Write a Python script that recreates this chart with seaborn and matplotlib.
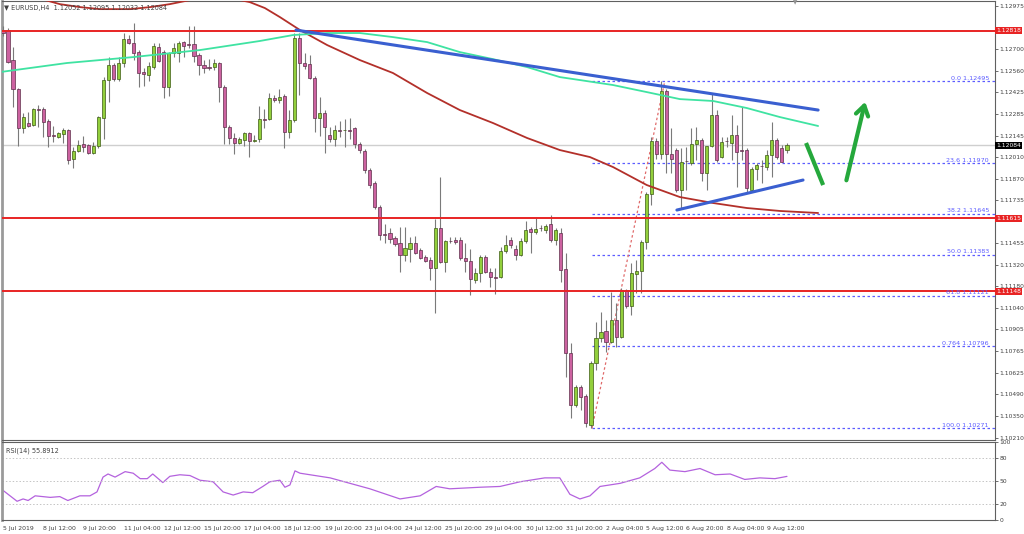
import numpy as np
import matplotlib
matplotlib.use("Agg")
import matplotlib.pyplot as plt
import seaborn as sns

# ==========================================
# DATOS (leidos del grafico EURUSD H4)
# ==========================================
opens = [1.12821, 1.12821, 1.12629, 1.12443, 1.12194, 1.12226, 1.12213, 1.12315, 1.12315, 1.12239,
         1.12149, 1.12136, 1.12155, 1.12181, 1.11995, 1.12047, 1.12091, 1.12085, 1.12034, 1.12079,
         1.12258, 1.12501, 1.12597, 1.12507, 1.12610, 1.12763, 1.12738, 1.12680, 1.12552, 1.12533,
         1.12584, 1.12712, 1.12680, 1.12456, 1.12674, 1.12674, 1.12744, 1.12731, 1.12731, 1.12661,
         1.12597, 1.12584, 1.12584, 1.12610, 1.12456, 1.12200, 1.12130, 1.12098, 1.12117, 1.12162,
         1.12111, 1.12123, 1.12251, 1.12251, 1.12386, 1.12373, 1.12399, 1.12168, 1.12245, 1.12770,
         1.12610, 1.12603, 1.12514, 1.12258, 1.12290, 1.12149, 1.12123, 1.12181, 1.12181, 1.12181,
         1.12194, 1.12091, 1.12047, 1.11925, 1.11842, 1.11688, 1.11515, 1.11522, 1.11490, 1.11458,
         1.11381, 1.11419, 1.11458, 1.11413, 1.11368, 1.11349, 1.11298, 1.11554, 1.11336, 1.11471,
         1.11477, 1.11477, 1.11362, 1.11343, 1.11221, 1.11266, 1.11368, 1.11272, 1.11240, 1.11240,
         1.11407, 1.11477, 1.11419, 1.11381, 1.11471, 1.11547, 1.11528, 1.11554, 1.11541, 1.11579,
         1.11477, 1.11522, 1.11291, 1.10754, 1.10421, 1.10536, 1.10479, 1.10293, 1.10690, 1.10850,
         1.10895, 1.10824, 1.10965, 1.10856, 1.11157, 1.11055, 1.11259, 1.11279, 1.11464, 1.11771,
         1.12111, 1.12027, 1.12431, 1.12027, 1.12053, 1.11797, 1.11983, 1.11970, 1.12091, 1.12117,
         1.11906, 1.12079, 1.12277, 1.12008, 1.12111, 1.12098, 1.12149, 1.12053, 1.12053, 1.11797,
         1.11931, 1.11951, 1.11944, 1.12021, 1.12117, 1.12066, 1.12052]
highs = [1.12847, 1.12834, 1.12712, 1.12450, 1.12290, 1.12296, 1.12322, 1.12341, 1.12328, 1.12251,
         1.12207, 1.12168, 1.12194, 1.12188, 1.12072, 1.12117, 1.12143, 1.12091, 1.12104, 1.12270,
         1.12520, 1.12648, 1.12610, 1.12648, 1.12802, 1.12789, 1.12866, 1.12693, 1.12578, 1.12616,
         1.12738, 1.12738, 1.12693, 1.12680, 1.12738, 1.12751, 1.12751, 1.12847, 1.12847, 1.12674,
         1.12629, 1.12635, 1.12635, 1.12616, 1.12469, 1.12213, 1.12162, 1.12136, 1.12168, 1.12168,
         1.12149, 1.12335, 1.12315, 1.12418, 1.12405, 1.12443, 1.12411, 1.12309, 1.12802, 1.12802,
         1.12674, 1.12661, 1.12527, 1.12392, 1.12309, 1.12200, 1.12213, 1.12239, 1.12251, 1.12258,
         1.12200, 1.12104, 1.12059, 1.11938, 1.11855, 1.11701, 1.11579, 1.11554, 1.11503, 1.11560,
         1.11560, 1.11496, 1.11503, 1.11426, 1.11381, 1.11368, 1.11611, 1.11880, 1.11477, 1.11496,
         1.11496, 1.11496, 1.11458, 1.11419, 1.11298, 1.11381, 1.11381, 1.11298, 1.11298, 1.11432,
         1.11509, 1.11496, 1.11445, 1.11490, 1.11599, 1.11560, 1.11618, 1.11573, 1.11579, 1.11637,
         1.11554, 1.11554, 1.11394, 1.10818, 1.10549, 1.10549, 1.10491, 1.10703, 1.10952, 1.11016,
         1.10965, 1.11144, 1.11074, 1.11170, 1.11163, 1.11330, 1.11349, 1.11477, 1.11784, 1.12136,
         1.12130, 1.12495, 1.12443, 1.12194, 1.12066, 1.12066, 1.12072, 1.12194, 1.12200, 1.12130,
         1.12079, 1.12418, 1.12309, 1.12136, 1.12136, 1.12277, 1.12213, 1.12328, 1.12066, 1.11944,
         1.11970, 1.11989, 1.12053, 1.12232, 1.12130, 1.12085, 1.12095]
lows = [1.12783, 1.12610, 1.12328, 1.12079, 1.12162, 1.12200, 1.12207, 1.12200, 1.12136, 1.12072,
        1.12104, 1.12130, 1.12098, 1.11963, 1.11938, 1.12040, 1.12040, 1.12027, 1.12027, 1.12066,
        1.12123, 1.12360, 1.12495, 1.12495, 1.12584, 1.12731, 1.12629, 1.12456, 1.12463, 1.12495,
        1.12571, 1.12616, 1.12386, 1.12399, 1.12648, 1.12616, 1.12648, 1.12706, 1.12616, 1.12533,
        1.12546, 1.12565, 1.12565, 1.12360, 1.12091, 1.12091, 1.12027, 1.12091, 1.12079, 1.12008,
        1.12104, 1.12104, 1.12194, 1.12245, 1.12360, 1.12354, 1.12066, 1.12130, 1.12232, 1.12405,
        1.12571, 1.12507, 1.12168, 1.12143, 1.12034, 1.12104, 1.12079, 1.12136, 1.12072, 1.12123,
        1.12066, 1.12034, 1.11906, 1.11810, 1.11675, 1.11477, 1.11458, 1.11458, 1.11439, 1.11272,
        1.11343, 1.11336, 1.11387, 1.11355, 1.11336, 1.11221, 1.11010, 1.11330, 1.11272, 1.11458,
        1.11451, 1.11349, 1.11272, 1.11125, 1.11202, 1.11208, 1.11266, 1.11176, 1.11131, 1.11234,
        1.11394, 1.11426, 1.11349, 1.11375, 1.11458, 1.11394, 1.11515, 1.11535, 1.11522, 1.11464,
        1.11445, 1.11208, 1.10600, 1.10338, 1.10408, 1.10389, 1.10280, 1.10271, 1.10645, 1.10824,
        1.10760, 1.10818, 1.10792, 1.10850, 1.11042, 1.10997, 1.11138, 1.11138, 1.11419, 1.11701,
        1.11995, 1.11995, 1.11906, 1.11906, 1.11784, 1.11682, 1.11797, 1.11957, 1.11989, 1.11855,
        1.11797, 1.12072, 1.11976, 1.12002, 1.12072, 1.11989, 1.11816, 1.11989, 1.11784, 1.11784,
        1.11861, 1.11842, 1.11925, 1.11880, 1.11995, 1.11976, 1.12032]
closes = [1.12802, 1.12616, 1.12443, 1.12194, 1.12264, 1.12207, 1.12315, 1.12312, 1.12232, 1.12143,
          1.12146, 1.12162, 1.12181, 1.11989, 1.12047, 1.12085, 1.12072, 1.12034, 1.12079, 1.12264,
          1.12501, 1.12597, 1.12507, 1.12610, 1.12763, 1.12738, 1.12674, 1.12546, 1.12539, 1.12591,
          1.12719, 1.12623, 1.12456, 1.12674, 1.12706, 1.12738, 1.12719, 1.12728, 1.12655, 1.12597,
          1.12578, 1.12581, 1.12610, 1.12456, 1.12200, 1.12130, 1.12098, 1.12123, 1.12162, 1.12111,
          1.12117, 1.12251, 1.12248, 1.12386, 1.12373, 1.12392, 1.12168, 1.12245, 1.12770, 1.12610,
          1.12591, 1.12514, 1.12258, 1.12290, 1.12200, 1.12123, 1.12181, 1.12178, 1.12184, 1.12178,
          1.12091, 1.12053, 1.11925, 1.11829, 1.11688, 1.11509, 1.11512, 1.11483, 1.11451, 1.11381,
          1.11426, 1.11458, 1.11394, 1.11362, 1.11343, 1.11298, 1.11554, 1.11336, 1.11471, 1.11468,
          1.11464, 1.11362, 1.11343, 1.11227, 1.11266, 1.11368, 1.11272, 1.11240, 1.11237, 1.11407,
          1.11445, 1.11445, 1.11381, 1.11471, 1.11541, 1.11528, 1.11547, 1.11551, 1.11567, 1.11477,
          1.11541, 1.11285, 1.10754, 1.10421, 1.10536, 1.10472, 1.10306, 1.10690, 1.10850, 1.10888,
          1.10824, 1.10965, 1.10856, 1.11157, 1.11055, 1.11266, 1.11279, 1.11464, 1.11771, 1.12111,
          1.12027, 1.12431, 1.12027, 1.11995, 1.11797, 1.11976, 1.11980, 1.12091, 1.12117, 1.11906,
          1.12079, 1.12277, 1.11989, 1.12104, 1.12108, 1.12149, 1.12040, 1.12050, 1.11810, 1.11931,
          1.11957, 1.11948, 1.12021, 1.12117, 1.12008, 1.11976, 1.12084]

# medias moviles (indice de vela, precio)
ma_red_x = [8.4, 11.3, 15.3, 19.3, 25.3, 29.3, 33.2, 37.2, 45.2, 49.1, 52.1, 55.1, 59.1, 64.5, 71.0,
            77.6, 84.4, 90.9, 97.5, 104.3, 110.8, 116.8, 121.4, 128.1, 134.7, 141.3, 148.0, 154.6, 162.2]
ma_red_y = [1.13013, 1.12987, 1.12968, 1.12955, 1.12955, 1.12968, 1.12987, 1.13013, 1.13026, 1.13000,
            1.12962, 1.12904, 1.12821, 1.12725, 1.12629, 1.12546, 1.12418, 1.12309, 1.12226, 1.12130,
            1.12053, 1.12008, 1.11944, 1.11829, 1.11752, 1.11714, 1.11682, 1.11663, 1.11650]
ma_green_x = [-0.6, 12.7, 25.9, 39.2, 51.1, 57.7, 64.5, 71.0, 77.6, 84.4, 90.9, 97.5, 104.3, 110.8,
              114.8, 121.4, 128.1, 134.7, 141.3, 148.0, 154.6, 162.2]
ma_green_y = [1.12552, 1.12610, 1.12648, 1.12693, 1.12751, 1.12789, 1.12802, 1.12802, 1.12776, 1.12744,
              1.12680, 1.12635, 1.12584, 1.12520, 1.12501, 1.12469, 1.12424, 1.12379, 1.12367, 1.12322,
              1.12264, 1.12207]

# RSI(14)
rsi_x = [-0.6, 2.8, 4.0, 5.0, 6.4, 9.4, 11.3, 12.9, 15.3, 17.3, 18.7, 19.9, 20.9, 22.3, 24.3, 25.9,
         27.3, 28.7, 29.8, 31.8, 33.2, 35.2, 37.2, 39.2, 41.8, 43.8, 45.8, 47.8, 49.7, 51.7, 53.1, 55.1,
         56.1, 57.1, 58.1, 59.1, 65.1, 73.0, 79.0, 83.0, 86.2, 88.9, 94.9, 98.9, 102.9, 107.8, 110.8,
         112.8, 114.8, 116.8, 118.8, 122.8, 126.7, 129.7, 131.1, 132.7, 135.7, 138.7, 141.7, 144.7,
         147.6, 150.6, 153.6, 156.0]
rsi_y = [41, 24, 27, 25, 31, 29, 30, 25, 31, 31, 36, 55, 59, 55, 62, 60, 53, 53, 59, 48, 56, 58, 57, 51,
         49, 36, 32, 36, 35, 43, 49, 51, 42, 45, 63, 60, 54, 40, 27, 31, 43, 40, 42, 43, 49, 54, 54, 33,
         27, 31, 43, 47, 54, 66, 74, 64, 62, 66, 58, 59, 52, 54, 53, 55.9]

# niveles
res_levels = [1.12818, 1.11615, 1.11148]
last_price = 1.12084
fib_names = ["0.0", "23.6", "38.2", "50.0", "61.8", "0.764", "100.0"]
fib_prices = [1.12495, 1.11970, 1.11645, 1.11383, 1.11121, 1.10796, 1.10271]
fib_start = 117.2
fib_diag_x = [117.2, 131.7]
fib_diag_y = [1.10271, 1.12495]

upper_trend_x = [58.3, 162.2]
upper_trend_y = [1.12821, 1.12309]
lower_trend_x = [134.1, 159.2]
lower_trend_y = [1.11669, 1.11861]
arrow_down_x = [159.8, 163.2]
arrow_down_y = [1.12098, 1.11829]
arrow_up_x = [167.7, 171.7]
arrow_up_y = [1.11842, 1.12379]

price_ticks = [1.12975, 1.12700, 1.12560, 1.12425, 1.12285, 1.12145, 1.12010, 1.11870, 1.11735,
               1.11455, 1.11320, 1.11180, 1.11040, 1.10905, 1.10765, 1.10625, 1.10490, 1.10350, 1.10210]
rsi_ticks = [0, 20, 50, 80, 100]
date_labels = ["5 Jul 2019", "8 Jul 12:00", "9 Jul 20:00", "11 Jul 04:00", "12 Jul 12:00",
               "15 Jul 20:00", "17 Jul 04:00", "18 Jul 12:00", "19 Jul 20:00", "23 Jul 04:00",
               "24 Jul 12:00", "25 Jul 20:00", "29 Jul 04:00", "30 Jul 12:00", "31 Jul 20:00",
               "2 Aug 04:00", "5 Aug 12:00", "6 Aug 20:00", "8 Aug 04:00", "9 Aug 12:00"]

# ==========================================
# ESTILO
# ==========================================
BULL = '#92cf3c'
BEAR = '#cc62a0'
RED_LINE = '#e82424'
FIB_BLUE = '#5c5cff'
ARROW_GREEN = '#25a83c'
TXT = '#404040'
FS = 4.3

sns.set_style("white")
plt.rcParams['font.family'] = ['DejaVu Sans']

W, H = 1024, 534
fig = plt.figure(figsize=(W / 100, H / 100), dpi=100)
ax = fig.add_axes([2 / W, 1 - 440 / H, 993 / W, 439 / H])
ax_rsi = fig.add_axes([2 / W, 1 - 520 / H, 993 / W, 78 / H])

XMIN, XMAX = -0.2, 197.4

# velas
o, h, l, c = map(np.array, (opens, highs, lows, closes))
idx = np.arange(len(o))
up = c >= o
body_lo = np.minimum(o, c)
body_h = np.maximum(np.abs(c - o), 0.00002)
ax.vlines(idx, l, h, color='#7a7a7a', lw=0.8, zorder=3)
ax.bar(idx[up], body_h[up], bottom=body_lo[up], width=0.62, color=BULL,
       edgecolor='#3e5c14', linewidth=0.5, zorder=4)
ax.bar(idx[~up], body_h[~up], bottom=body_lo[~up], width=0.62, color=BEAR,
       edgecolor='#5e2f4a', linewidth=0.5, zorder=4)

# medias moviles
sns.lineplot(x=ma_red_x, y=ma_red_y, ax=ax, color='#b3302a', lw=1.3, zorder=5)
sns.lineplot(x=ma_green_x, y=ma_green_y, ax=ax, color='#3fe3a2', lw=1.3, zorder=5)

# lineas horizontales
ax.axhline(last_price, color='#cfcfcf', lw=1, zorder=1)
for lvl in res_levels:
    ax.axhline(lvl, color=RED_LINE, lw=1.4, zorder=6)
    ax.text(1.001, lvl, f"{lvl:.5f}", transform=ax.get_yaxis_transform(), ha='left', va='center',
            fontsize=FS, color='white', clip_on=False, zorder=20,
            bbox=dict(boxstyle='square,pad=0.2', fc=RED_LINE, ec='none'))
ax.text(1.001, last_price, f"{last_price:.5f}", transform=ax.get_yaxis_transform(), ha='left',
        va='center', fontsize=FS, color='white', clip_on=False, zorder=20,
        bbox=dict(boxstyle='square,pad=0.2', fc='black', ec='none'))

# fibonacci
for name, p in zip(fib_names, fib_prices):
    ax.plot([fib_start, XMAX], [p, p], color=FIB_BLUE, lw=0.9, ls=(0, (2, 2)), zorder=2)
    ax.text(196.2, p + 0.00003, f"{name} {p:.5f}", ha='right', va='bottom', fontsize=4.6,
            color=FIB_BLUE, zorder=7)
ax.plot(fib_diag_x, fib_diag_y, color='#e06a6a', lw=0.9, ls=(0, (2, 2)), zorder=2)

# lineas de tendencia y flechas
ax.plot(upper_trend_x, upper_trend_y, color='#3a5fd0', lw=2.2, zorder=7)
ax.plot(lower_trend_x, lower_trend_y, color='#3a5fd0', lw=2.2, zorder=7)
ax.plot(arrow_down_x, arrow_down_y, color=ARROW_GREEN, lw=3, solid_capstyle='butt', zorder=8)
ax.annotate("", xy=(arrow_up_x[1], arrow_up_y[1]), xytext=(arrow_up_x[0], arrow_up_y[0]),
            arrowprops=dict(arrowstyle='->,head_length=0.7,head_width=0.45', color=ARROW_GREEN,
                            lw=3), zorder=8)

ax.set_xlim(XMIN, XMAX)
ax.set_ylim(1.10197, 1.13007)
ax.yaxis.tick_right()
ax.set_yticks(price_ticks)
ax.set_yticklabels([f"{v:.5f}" for v in price_ticks])
ax.tick_params(axis='y', labelsize=FS, labelcolor=TXT, length=2, width=0.6, color='#555555', pad=1)
ax.set_xticks([])
ax.set_xlabel("")
ax.set_ylabel("")

# RSI
sns.lineplot(x=rsi_x, y=rsi_y, ax=ax_rsi, color='#b462de', lw=0.9)
for lvl in (20, 50, 80):
    ax_rsi.axhline(lvl, color='#c4c4c4', lw=0.7, ls=(0, (1.5, 2)))
ax_rsi.set_xlim(XMIN, XMAX)
ax_rsi.set_ylim(0, 100)
ax_rsi.yaxis.tick_right()
ax_rsi.set_yticks(rsi_ticks)
ax_rsi.set_yticklabels([str(v) for v in rsi_ticks])
ax_rsi.tick_params(axis='y', labelsize=FS, labelcolor=TXT, length=2, width=0.6, color='#555555', pad=1)
ax_rsi.set_xticks(np.arange(0, 8 * len(date_labels), 8))
ax_rsi.set_xticklabels(date_labels)
for lbl in ax_rsi.get_xticklabels():
    lbl.set_ha('left')
ax_rsi.tick_params(axis='x', labelsize=4.4, labelcolor=TXT, length=3, width=0.6, color='#555555',
                   pad=1.5, direction='out')
ax_rsi.set_xlabel("")
ax_rsi.set_ylabel("")
ax_rsi.text(0.004, 0.93, "RSI(14) 55.8912", transform=ax_rsi.transAxes, ha='left', va='top',
            fontsize=4.7, color=TXT)

for a in (ax, ax_rsi):
    for side in ('top', 'bottom', 'right'):
        a.spines[side].set_color('#606060')
        a.spines[side].set_linewidth(0.8)
    a.spines['left'].set_color('#9a9a9a')
    a.spines['left'].set_linewidth(2)

# cabecera
fig.text(4 / W, 1 - 8 / H, "\u25bc EURUSD,H4  1.12052 1.12095 1.12032 1.12084", fontsize=4.7,
         color=TXT, va='center', ha='left')
fig.text(795 / W, 1 - 3 / H, "\u25bc", fontsize=4, color='#909090', va='center', ha='center')

fig.savefig("out.png", dpi=100, facecolor='white')
